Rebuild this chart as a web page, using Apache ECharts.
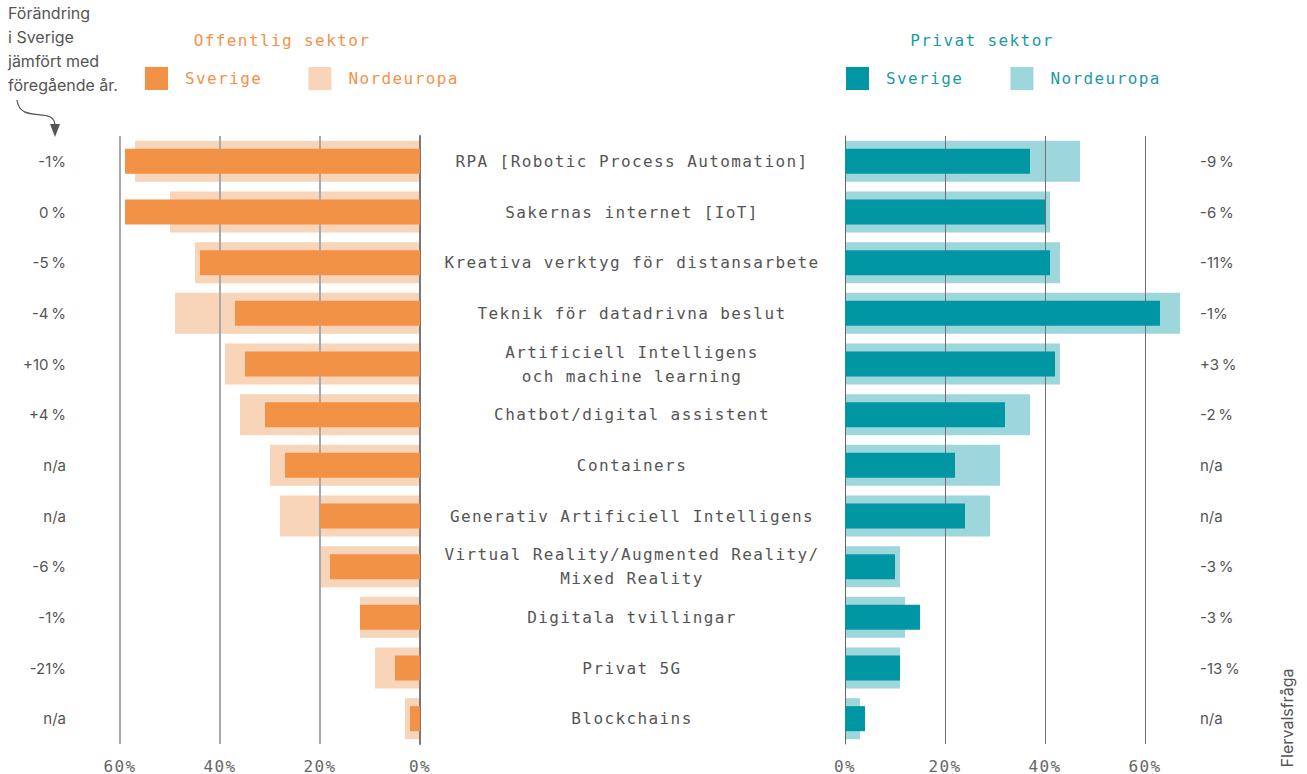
<!DOCTYPE html>
<html><head><meta charset="utf-8">
<script src="https://cdn.jsdelivr.net/npm/echarts@6/dist/echarts.min.js"></script>
<style>html,body{margin:0;padding:0;background:#fff}#c{width:1307px;height:774px}
#c text[style*="Mono"]{letter-spacing:1.4px}</style>
</head><body><div id="c"></div>
<script>
const categories = ["RPA [Robotic Process Automation]", "Sakernas internet [IoT]", "Kreativa verktyg för distansarbete", "Teknik för datadrivna beslut", "Artificiell Intelligens\noch machine learning", "Chatbot/digital assistent", "Containers", "Generativ Artificiell Intelligens", "Virtual Reality/Augmented Reality/\nMixed Reality", "Digitala tvillingar", "Privat 5G", "Blockchains"];
const publicSweden = [59, 59, 44, 37, 35, 31, 27, 20, 18, 12, 5, 2];
const publicNorth = [57, 50, 45, 49, 39, 36, 30, 28, 20, 12, 9, 3];
const privateSweden = [37, 40, 41, 63, 42, 32, 22, 24, 10, 15, 11, 4];
const privateNorth = [47, 41, 43, 67, 43, 37, 31, 29, 11, 12, 11, 3];
const publicChange = ["-1%", "0\u2009%", "-5\u2009%", "-4\u2009%", "+10\u2009%", "+4\u2009%", "n/a", "n/a", "-6\u2009%", "-1%", "-21%", "n/a"];
const privateChange = ["-9\u2009%", "-6\u2009%", "-11%", "-1%", "+3\u2009%", "-2\u2009%", "n/a", "n/a", "-3\u2009%", "-3\u2009%", "-13\u2009%", "n/a"];
const legendNames = ["Sverige", "Nordeuropa"];
const tickSuffix = "%";

const ORANGE = '#f29247', ORANGE_L = '#f8d4b8', TEAL = '#0096a4', TEAL_L = '#9dd6db';
const MONO = '"DejaVu Sans Mono", "Liberation Mono", monospace';
const SANS = 'Inter, "Noto Sans", sans-serif';

const chart = echarts.init(document.getElementById('c'), null, {renderer: 'svg'});
const gridTop = 136, gridH = 610;

const option = {
  backgroundColor: '#fff',
  animation: false,
  title: [
    {text: 'Offentlig sektor', left: 277, top: 27, textAlign: 'center',
     textStyle: {fontFamily: MONO, fontSize: 16, fontWeight: 'normal', color: ORANGE}},
    {text: 'Privat sektor', left: 977, top: 27, textAlign: 'center',
     textStyle: {fontFamily: MONO, fontSize: 16, fontWeight: 'normal', color: '#1b9aa5'}}
  ],
  legend: [
    {left: 145, top: 67, padding: 0, itemWidth: 23, itemHeight: 23, itemGap: 56, icon: 'rect', selectedMode: false,
     data: ['Offentlig Sverige', 'Offentlig Nordeuropa'],
     formatter: n => legendNames[n.indexOf('Sverige') >= 0 ? 0 : 1],
     textStyle: {fontFamily: MONO, fontSize: 16, color: ORANGE, padding: [0, 0, 0, 12]}},
    {left: 846, top: 67, padding: 0, itemWidth: 23, itemHeight: 23, itemGap: 57, icon: 'rect', selectedMode: false,
     data: ['Privat Sverige', 'Privat Nordeuropa'],
     formatter: n => legendNames[n.indexOf('Sverige') >= 0 ? 0 : 1],
     textStyle: {fontFamily: MONO, fontSize: 16, color: '#1b9aa5', padding: [0, 0, 0, 12]}}
  ],
  grid: [
    {left: 120, width: 300, top: gridTop, height: gridH},
    {left: 845, width: 400, top: gridTop, height: gridH}
  ],
  xAxis: [
    {gridIndex: 0, type: 'value', inverse: true, min: 0, max: 60, interval: 20, z: 2,
     axisLine: {show: false}, axisTick: {show: false},
     splitLine: {show: true, lineStyle: {color: '#a8a8a8', width: 2}},
     axisLabel: {formatter: v => v + tickSuffix, margin: 14, fontFamily: MONO, fontSize: 16, color: '#666'}},
    {gridIndex: 1, type: 'value', min: 0, max: 80, interval: 20, z: 2,
     axisLine: {show: false}, axisTick: {show: false},
     splitLine: {show: true, showMaxLine: false, lineStyle: {color: '#6f6f6f', width: 1}},
     axisLabel: {formatter: v => v + tickSuffix, showMaxLabel: false, margin: 14, fontFamily: MONO, fontSize: 16, color: '#666'}}
  ],
  yAxis: [
    {gridIndex: 0, type: 'category', data: categories, inverse: true, position: 'right', z: 2,
     axisLine: {show: true, lineStyle: {color: '#777', width: 2}}, axisTick: {show: false},
     axisLabel: {margin: 212, align: 'center', fontFamily: MONO, fontSize: 16, lineHeight: 24, color: '#555', padding: [4, 0, 0, 0]}},
    {gridIndex: 0, type: 'category', data: publicChange, inverse: true, position: 'left',
     axisLine: {show: false}, axisTick: {show: false},
     axisLabel: {margin: 54, fontFamily: SANS, fontSize: 15, color: '#555', padding: [3, 0, 0, 0]}},
    {gridIndex: 1, type: 'category', data: categories, inverse: true, position: 'left', z: 2,
     axisLine: {show: true, lineStyle: {color: '#666', width: 1}}, axisTick: {show: false},
     axisLabel: {show: false}},
    {gridIndex: 1, type: 'category', data: privateChange, inverse: true, position: 'left',
     axisLine: {show: false}, axisTick: {show: false},
     axisLabel: {inside: true, margin: 355, align: 'left', fontFamily: SANS, fontSize: 15, color: '#555', padding: [3, 0, 0, 0]}}
  ],
  series: [
    {name: 'Offentlig Nordeuropa', type: 'bar', xAxisIndex: 0, yAxisIndex: 0, data: publicNorth,
     barWidth: 41, z: 1, itemStyle: {color: ORANGE_L}},
    {name: 'Offentlig Sverige', type: 'bar', xAxisIndex: 0, yAxisIndex: 1, data: publicSweden,
     barWidth: 25, z: 3, itemStyle: {color: ORANGE}},
    {name: 'Privat Nordeuropa', type: 'bar', xAxisIndex: 1, yAxisIndex: 2, data: privateNorth,
     barWidth: 41, z: 1, itemStyle: {color: TEAL_L}},
    {name: 'Privat Sverige', type: 'bar', xAxisIndex: 1, yAxisIndex: 3, data: privateSweden,
     barWidth: 25, z: 3, itemStyle: {color: TEAL}}
  ],
  graphic: [
    {type: 'text', left: 8, top: 1,
     style: {text: 'Förändring\ni Sverige\njämfört med\nföregående år.', font: '16px Inter', lineHeight: 24, fill: '#555'}},
    {type: 'bezierCurve', shape: {x1: 17, y1: 100, x2: 55, y2: 126, cpx1: 20, cpy1: 125, cpx2: 55, cpy2: 105},
     style: {stroke: '#555', lineWidth: 1.2, fill: null}},
    {type: 'polygon', shape: {points: [[50, 124], [60, 124], [55, 137]]}, style: {fill: '#555'}},
    {type: 'text', x: 1287, y: 718, rotation: Math.PI / 2,
     style: {text: 'Flervalsfråga', font: '16px Inter', fill: '#555', textAlign: 'center', textVerticalAlign: 'middle'}}
  ]
};
chart.setOption(option);
function spaceMono() {
  document.querySelectorAll('#c svg text').forEach(t => {
    const s = (t.getAttribute('style') || '') + ' ' + getComputedStyle(t).fontFamily;
    if (s.indexOf('Mono') >= 0) t.style.letterSpacing = '1.4px';
  });
}
spaceMono();
chart.on('finished', spaceMono);
setTimeout(spaceMono, 0);
</script>
</body></html>
